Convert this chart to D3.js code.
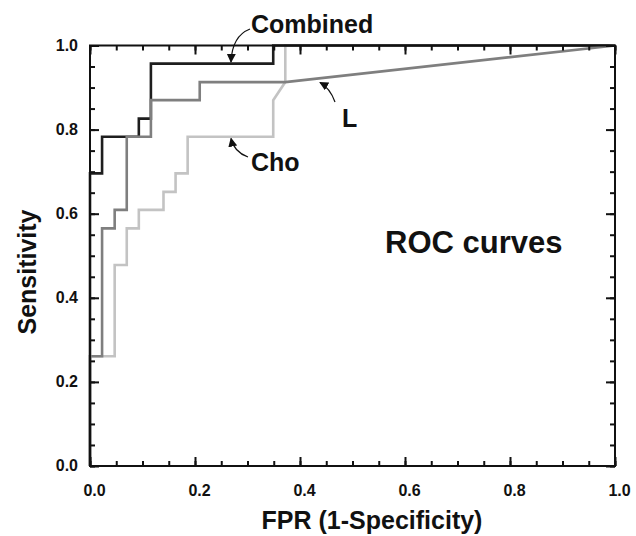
<!DOCTYPE html>
<html>
<head>
<meta charset="utf-8">
<script src="https://cdn.jsdelivr.net/npm/d3@7"></script>
<style>
  body { margin: 0; background: #fff; }
  svg text { font-family: "Liberation Sans", Arial, sans-serif; font-weight: bold; fill: #111; }
</style>
</head>
<body>
<svg id="chart" width="636" height="536"></svg>
<script>
// ROC curves, points (FPR, sensitivity corners).
const combinedFPR = [0, 0, 0.023, 0.023, 0.093, 0.093, 0.116, 0.116, 0.349, 0.349, 1.0];
const combinedTPR = [0, 0.696, 0.696, 0.783, 0.783, 0.826, 0.826, 0.957, 0.957, 1.0, 1.0];

const lFPR = [0, 0, 0.023, 0.023, 0.047, 0.047, 0.070, 0.070, 0.116, 0.116, 0.209, 0.209, 0.372, 1.0];
const lTPR = [0, 0.261, 0.261, 0.565, 0.565, 0.609, 0.609, 0.783, 0.783, 0.870, 0.870, 0.913, 0.913, 1.0];

const choFPR = [0, 0, 0.047, 0.047, 0.070, 0.070, 0.093, 0.093, 0.140, 0.140, 0.163, 0.163, 0.186, 0.186, 0.349, 0.349, 0.372, 0.372, 1.0];
const choTPR = [0, 0.261, 0.261, 0.478, 0.478, 0.565, 0.565, 0.609, 0.609, 0.652, 0.652, 0.696, 0.696, 0.783, 0.783, 0.870, 0.913, 1.0, 1.0];

const majorTicks = [0, 0.2, 0.4, 0.6, 0.8, 1.0];
const minorTicks = d3.range(0, 1.0001, 0.05);

// plot box in pixels
const box = {left: 90, right: 615, top: 45.5, bottom: 466};

const svg = d3.select("#chart");
const x = d3.scaleLinear().domain([0, 1]).range([box.left, box.right]);
const y = d3.scaleLinear().domain([0, 1]).range([box.bottom, box.top]);

const zip = (xs, ys) => xs.map((v, i) => [v, ys[i]]);
const line = d3.line().x(d => x(d[0])).y(d => y(d[1]));

// draw order: Cho underneath, Combined, then L on top
const series = [
  {pts: zip(choFPR, choTPR), color: "#c3c3c3"},
  {pts: zip(combinedFPR, combinedTPR), color: "#1e1e1e"},
  {pts: zip(lFPR, lTPR), color: "#7f7f7f"}
];

const g = svg.append("g").attr("class", "data");
g.selectAll("path")
  .data(series)
  .join("path")
  .attr("d", d => line(d.pts))
  .attr("fill", "none")
  .attr("stroke", d => d.color)
  .attr("stroke-width", 2.6)
  .attr("stroke-linejoin", "miter");

// axes: all four sides, ticks pointing inward
const tickFmt = d3.format(".1f");
function sideAxis(axisFn, scale, transform, showLabels) {
  const minor = axisFn(scale).tickValues(minorTicks).tickSize(-5).tickFormat("");
  svg.append("g").attr("transform", transform).call(minor)
    .call(a => a.select(".domain").remove());
  const major = axisFn(scale).tickValues(majorTicks).tickSize(-9).tickPadding(12)
    .tickFormat(showLabels ? tickFmt : "");
  const ag = svg.append("g").attr("transform", transform).call(major)
    .call(a => a.select(".domain").remove());
  return ag;
}
const xb = sideAxis(d3.axisBottom, x, `translate(0,${box.bottom})`, true);
sideAxis(d3.axisTop, x, `translate(0,${box.top})`, false);
const yl = sideAxis(d3.axisLeft, y, `translate(${box.left},0)`, true);
sideAxis(d3.axisRight, y, `translate(${box.right},0)`, false);

svg.selectAll(".tick line").attr("stroke", "#111").attr("stroke-width", 2);
xb.selectAll("text").attr("font-size", 16).attr("dx", 4).attr("dy", "1.1em");
yl.selectAll("text").attr("font-size", 16).attr("dy", "0.3em");
svg.selectAll(".tick text").attr("fill", "#111")
  .attr("font-family", "'Liberation Sans', Arial, sans-serif").attr("font-weight", "bold");

svg.append("rect")
  .attr("x", box.left).attr("y", box.top)
  .attr("width", box.right - box.left).attr("height", box.bottom - box.top)
  .attr("fill", "none").attr("stroke", "#111").attr("stroke-width", 2);

// titles
svg.append("text").attr("x", 372).attr("y", 529).attr("text-anchor", "middle")
  .attr("font-size", 25).text("FPR (1-Specificity)");
svg.append("text").attr("transform", "translate(36,272) rotate(-90)")
  .attr("text-anchor", "middle").attr("font-size", 25).text("Sensitivity");
svg.append("text").attr("x", 385).attr("y", 253)
  .attr("font-size", 31).text("ROC curves");

// annotations with curved arrows
svg.append("defs").append("marker")
  .attr("id", "head").attr("viewBox", "0 0 10 10")
  .attr("refX", 9).attr("refY", 5)
  .attr("markerWidth", 9).attr("markerHeight", 9)
  .attr("markerUnits", "userSpaceOnUse")
  .attr("orient", "auto")
  .append("path").attr("d", "M0,0 L10,5 L0,10 Z").attr("fill", "#111");

const notes = [
  {label: "Combined", tx: 251, ty: 33, path: "M250,29 Q232,36 231,62"},
  {label: "Cho", tx: 251, ty: 171, path: "M248,157 Q234,152 231,138.5"},
  {label: "L", tx: 342, ty: 127, path: "M335,102 Q330,88 320,82.5"}
];
svg.selectAll("path.arrow")
  .data(notes)
  .join("path")
  .attr("class", "arrow")
  .attr("d", d => d.path)
  .attr("fill", "none")
  .attr("stroke", "#111")
  .attr("stroke-width", 1.2)
  .attr("marker-end", "url(#head)");
svg.selectAll("text.note")
  .data(notes)
  .join("text")
  .attr("class", "note")
  .attr("x", d => d.tx).attr("y", d => d.ty)
  .attr("font-size", 25)
  .text(d => d.label);
</script>
</body>
</html>
